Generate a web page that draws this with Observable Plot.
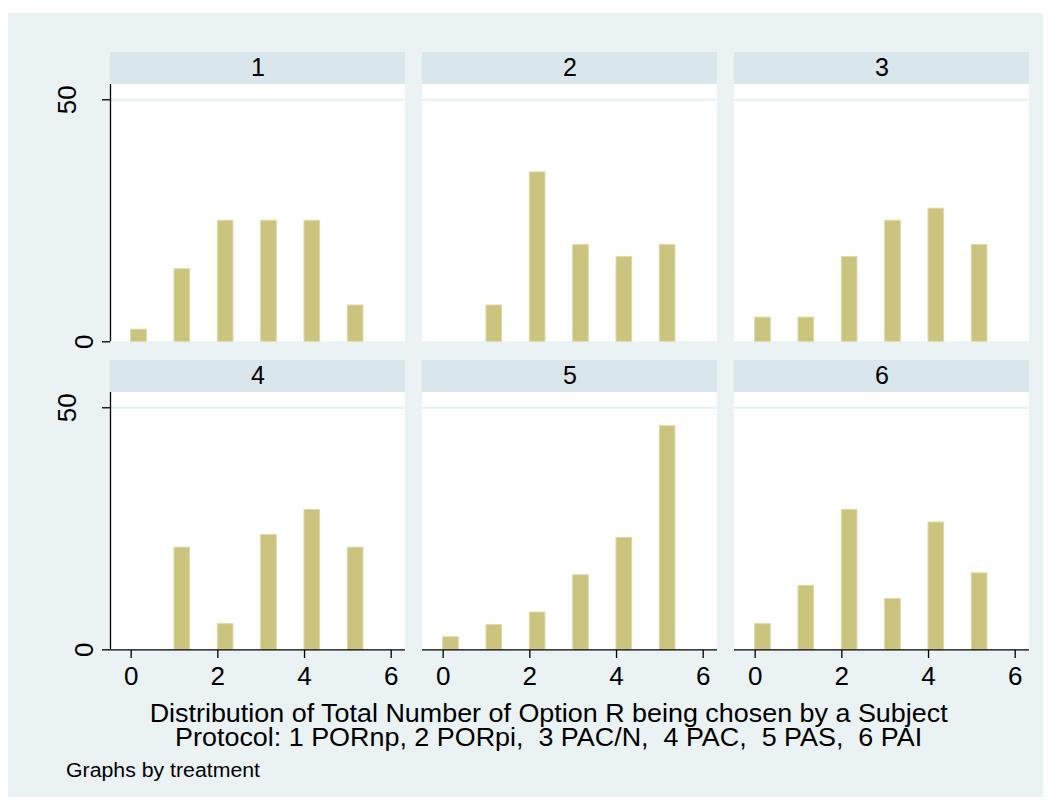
<!DOCTYPE html>
<html>
<head>
<meta charset="utf-8">
<script src="https://cdn.jsdelivr.net/npm/d3@7"></script>
<script src="https://cdn.jsdelivr.net/npm/@observablehq/plot@0.6"></script>
<style>
  html, body { margin: 0; padding: 0; background: #ffffff; }
  body { width: 1051px; height: 805px; position: relative; overflow: hidden; font-family: Arial, "Liberation Sans", sans-serif; }
  #bg { position: absolute; left: 8px; top: 13px; width: 1035px; height: 784px; background: #eaf2f3; }
  #chart { position: absolute; left: 0; top: 0; }
  .ttl { position: absolute; white-space: pre; color: #000; font-family: Arial, "Liberation Sans", sans-serif; }
  #titles { top: 701px; font-size: 26px; line-height: 24px; text-align: center; transform-origin: 50% 0; }
  #note { top: 762px; font-size: 20px; line-height: 16px; transform-origin: 0 0; }
  #chart svg text { font-family: Arial, "Liberation Sans", sans-serif; }
</style>
</head>
<body>
<div id="bg"></div>
<div id="chart"></div>
<div class="ttl" id="titles"></div>
<div class="ttl" id="note"></div>
<script>
// ---- data (percent of subjects by total number of Option R chosen) ----
const treatments = [1, 2, 3, 4, 5, 6];
const counts = [0, 1, 2, 3, 4, 5];
const pct1 = [2.5, 15, 25, 25, 25, 7.5];
const pct2 = [0, 7.5, 35, 20, 17.5, 20];
const pct3 = [5, 5, 17.5, 25, 27.5, 20];
const pct4 = [0, 21.1, 5.3, 23.7, 28.9, 21.1];
const pct5 = [2.6, 5.1, 7.7, 15.4, 23.1, 46.2];
const pct6 = [5.3, 13.2, 28.9, 10.5, 26.3, 15.8];
const xTicks = [0, 2, 4, 6];
const yTicks = [0, 50];
const titleText = "Distribution of Total Number of Option R being chosen by a Subject";
const subtitleText = "Protocol: 1 PORnp, 2 PORpi,  3 PAC/N,  4 PAC,  5 PAS,  6 PAI";
const noteText = "Graphs by treatment";

// ---- build table ----
const series = [pct1, pct2, pct3, pct4, pct5, pct6];
const panels = treatments.map((t, i) => ({t, col: i % 3, row: Math.floor(i / 3)}));
const rows = [];
panels.forEach((p, i) => {
  counts.forEach((k, j) => {
    const v = series[i][j];
    if (v > 0) rows.push({...p, k, pct: v});
  });
});

// ---- layout / style constants ----
const xDomain = [-0.477, 6.33];
const yDomain = [-0.14, 59.77];
const plotTop = 53.16;       // top of white plot region (data units)
const barW = 0.36;           // bar width (data units)
const barFill = "#cbc47e";
const barEdge = "#ddd8a6";
const stripFill = "#d9e6eb";
const gridCol = "#e6eff2";
const font = "Arial, 'Liberation Sans', sans-serif";
const fmt = d3.format("d");
const tickFont = 26;
const stripFont = 25;

const chart = Plot.plot({
  width: 1051,
  height: 700,
  marginLeft: 110,
  marginRight: 22,
  marginTop: 52,
  marginBottom: 50,
  style: {background: "transparent", fontFamily: font, color: "#000", overflow: "visible"},
  fx: {domain: [0, 1, 2], paddingInner: 17 / 312, paddingOuter: 0, axis: null},
  fy: {domain: [0, 1], paddingInner: 18 / 308, paddingOuter: 0, axis: null},
  x: {domain: xDomain, axis: null},
  y: {domain: yDomain, axis: null},
  marks: [
    Plot.rect(panels, {fx: "col", fy: "row", y1: 0, y2: plotTop, fill: "#ffffff"}),
    Plot.rect(panels, {fx: "col", fy: "row", y1: plotTop, y2: yDomain[1], fill: stripFill}),
    Plot.text(panels, {fx: "col", fy: "row", y: (plotTop + yDomain[1]) / 2, text: d => String(d.t), fontSize: stripFont, fill: "#000"}),
    Plot.ruleY(panels, {fx: "col", fy: "row", y: () => yTicks[1], stroke: gridCol, strokeWidth: 2}),
    Plot.rect(rows, {fx: "col", fy: "row", x1: "k", x2: d => d.k + barW, y1: 0, y2: "pct", fill: barFill, stroke: barEdge, strokeWidth: 1}),
    Plot.ruleX(panels.filter(p => p.col === 0), {fx: "col", fy: "row", x: () => xDomain[0], y1: 0, y2: plotTop, stroke: "#000", strokeWidth: 1.3}),
    Plot.ruleY(panels.filter(p => p.row === 1), {fx: "col", fy: "row", y: () => 0, stroke: "#000", strokeWidth: 1.3}),
    Plot.axisY({ticks: [yTicks[0]], tickFormat: fmt, tickSize: 8, tickPadding: 10, tickRotate: -90, fontSize: tickFont, label: null, stroke: "#000", strokeWidth: 1.3, fill: "#000"}),
    Plot.axisY({ticks: [yTicks[1]], tickFormat: fmt, tickSize: 8, tickPadding: 27, tickRotate: -90, fontSize: tickFont, label: null, stroke: "#000", strokeWidth: 1.3, fill: "#000"}),
    Plot.axisX({ticks: xTicks, tickFormat: fmt, tickSize: 8, tickPadding: 8, fontSize: tickFont, label: null, stroke: "#000", strokeWidth: 1.3, fill: "#000"})
  ]
});
document.getElementById("chart").appendChild(chart);

// title block (two lines in one text block), condensed by horizontal scaling
const tb = document.getElementById("titles");
tb.textContent = titleText + "\n" + subtitleText;
const tw = tb.getBoundingClientRect().width;
tb.style.left = (549 - tw / 2) + "px";
tb.style.transform = `scaleX(${798 / tw})`;

const nb = document.getElementById("note");
nb.textContent = noteText;
const nw = nb.getBoundingClientRect().width;
nb.style.left = "66px";
nb.style.transform = `scaleX(${194 / nw})`;
</script>
</body>
</html>
